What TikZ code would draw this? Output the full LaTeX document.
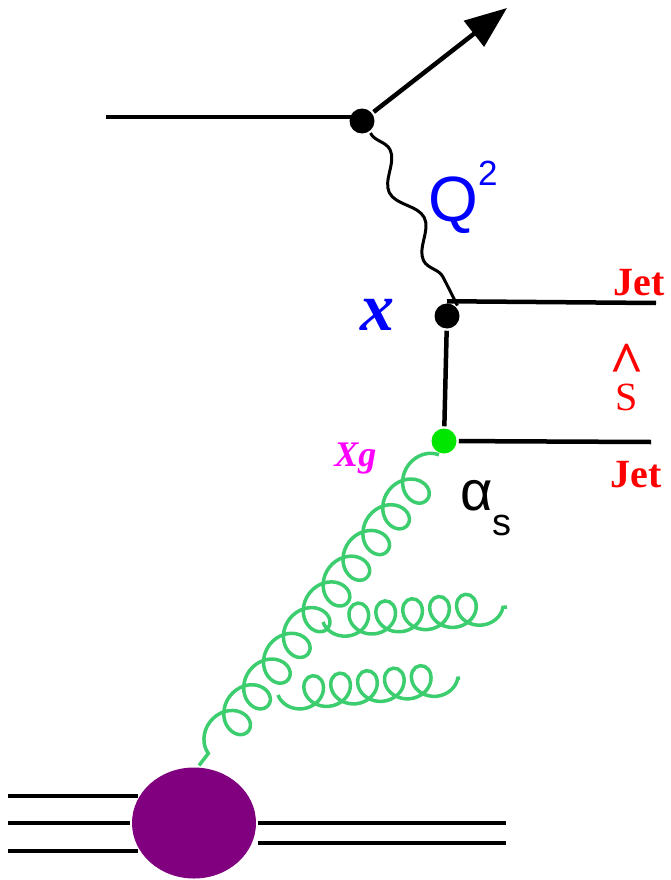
\documentclass[tikz,border=0pt]{standalone}
\usepackage{fontspec}
\setmainfont{Liberation Serif}
\newfontfamily\helv{Liberation Sans}
\usetikzlibrary{arrows.meta,shapes.geometric,decorations.pathmorphing}
\definecolor{gluongreen}{RGB}{60,205,110}
\definecolor{vtxgreen}{RGB}{0,230,0}
\definecolor{blobpurple}{RGB}{128,0,128}
\definecolor{xgmagenta}{RGB}{255,0,255}

\begin{document}
\begin{tikzpicture}[x=1pt,y=-1pt,line width=4.5pt,
  dot/.style={circle,fill=black,inner sep=0pt,minimum size=25pt},
  gdot/.style={dot,fill=vtxgreen},
  photon/.style={line width=3pt,decorate,decoration={snake,amplitude=10pt,segment length=76pt}},
  gluon/.style={draw=gluongreen,line width=3.5pt,decorate,decoration={coil,amplitude=18pt,segment length=32.5pt,aspect=1.0,mirror}},
  branch/.style={gluon,decoration={coil,amplitude=16pt,segment length=27pt,aspect=1.0}},
  lbl/.style={anchor=base west,inner sep=0pt},
  jet/.style={lbl,text=red,font=\bfseries\fontsize{40}{40}\selectfont},
  >={Triangle[length=42pt,width=32pt]}]
\useasboundingbox (0,0) rectangle (670,880);
\node[dot] (v1) at (362,121) {};
\node[dot] (v2) at (447,316) {};
\node[gdot] (v3) at (444,441) {};
\node[ellipse,fill=blobpurple,minimum width=124pt,minimum height=111pt,inner sep=0pt] (blob) at (194,823) {};
\coordinate (ein) at (106,117);
\coordinate (eout) at (507,8);
\coordinate (j1) at (656,303);
\coordinate (j2) at (651,442);
\coordinate (p1) at (8,796);
\coordinate (p2) at (8,823);
\coordinate (p3) at (8,851);
\coordinate (q1) at (506,823);
\coordinate (q2) at (506,843);
\coordinate (b1s) at (323,622);
\coordinate (b1e) at (507,607);
\coordinate (b2s) at (278,695);
\coordinate (b2e) at (460,678);
\draw (ein) -- (ein -| v1);
\draw[->] (v1) -- (eout);
\draw[photon] (v1.-55) -- (v2.45);
\draw (v2.north) -- (j1);
\draw (v2) -- (v3);
\draw (v3) -- (j2);
\draw[gluon] (v3.250) -- (blob.85);
\draw[branch] (b1s) -- (b1e);
\draw[branch] (b2s) -- (b2e);
\draw (p1) -- (p1 -| blob.153);
\draw (p2) -- (blob.west);
\draw (p3) -- (p3 -| blob.207);
\draw (blob.east) -- (q1);
\draw (q2 -| blob.east) -- (q2);
\node[lbl,text=blue,font=\helv\fontsize{64}{64}\selectfont] (q2lbl) at (426,221) {Q\raisebox{36pt}{\fontsize{35}{35}\selectfont 2}};
\node[lbl,text=blue,font=\bfseries\itshape\fontsize{68}{68}\selectfont] (xlbl) at (358,330) {x};
\node[jet] (jet1) at (611,295) {Jet};
\node[jet] (jet2) at (608,487) {Jet};
\node[text=red,font=\fontsize{40}{40}\selectfont,align=center,inner sep=0pt,anchor=base] (shat) at (627,410) {{\bfseries\fontsize{60}{40}\selectfont\textasciicircum}\\[-13pt]S};
\node[lbl,text=xgmagenta,font=\bfseries\itshape\fontsize{36}{36}\selectfont] (xg) at (332,466) {Xg};
\node[lbl,font=\helv\fontsize{56}{56}\selectfont] (as) at (458,510) {α\raisebox{-25pt}{\fontsize{38}{38}\selectfont s}};
\end{tikzpicture}
\end{document}
